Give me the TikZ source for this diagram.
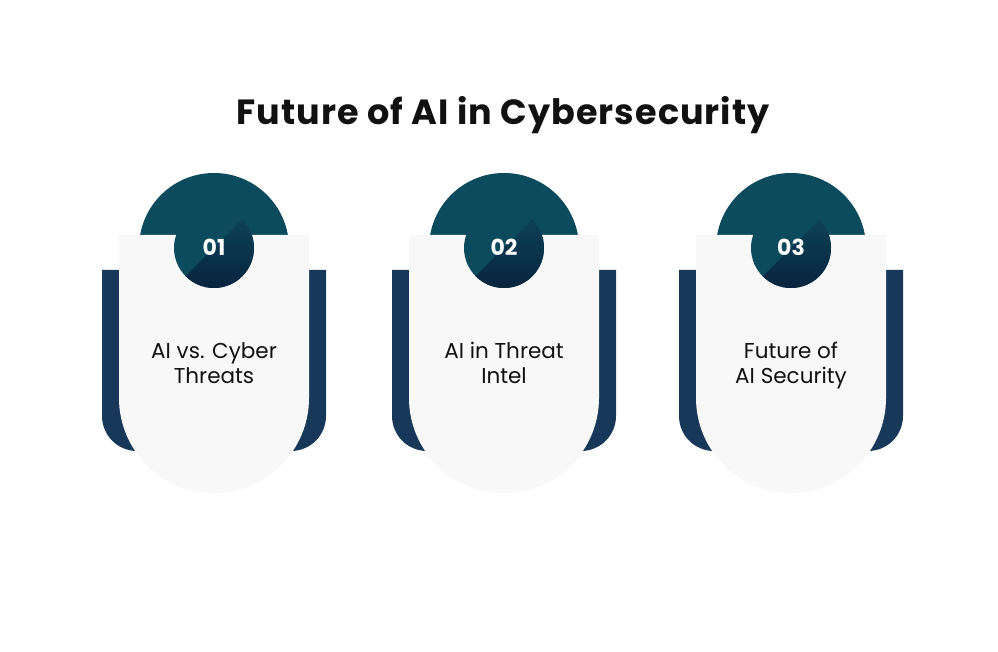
\documentclass[tikz,border=0pt]{standalone}
\usepackage{fontspec}
\setmainfont{Poppins}
\definecolor{teal1}{HTML}{0C4A5E}
\definecolor{navy1}{HTML}{18385A}
\definecolor{dark1}{HTML}{08203C}
\definecolor{card}{HTML}{F8F8F8}
\definecolor{ink}{HTML}{111111}
\tikzset{
  numtext/.style={text=white, font=\fontsize{22}{24}\selectfont\bfseries, inner sep=0pt},
  bodytext/.style={text=ink, font=\fontsize{21.5}{27}\selectfont, inner sep=0pt, anchor=base},
  titletext/.style={text=ink, font=\fontsize{35}{40}\selectfont\bfseries\addfontfeature{LetterSpace=3}, inner sep=0pt, anchor=base}
}
\begin{document}
\begin{tikzpicture}[x=1pt,y=1pt]
\useasboundingbox (0,0) rectangle (998,652);
\fill[white] (0,0) rectangle (998,652);
\node[titletext] (title) at (503,527) {Future of AI in Cybersecurity};
\foreach \cx/\num/\la/\lb in {214/01/{AI vs. Cyber}/{Threats}, 504/02/{AI in Threat}/{Intel}, 791/03/{Future of}/{AI Security}}{
  \fill[teal1] (\cx,404) circle (75);
  \fill[navy1] (\cx-112,382) -- (\cx-112,236) arc (180:270:35) -- (\cx+77,201) arc (270:360:35) -- (\cx+112,382) -- cycle;
  \fill[card] (\cx-95,417) -- (\cx-95,254) arc (180:360:95) -- (\cx+95,417) -- cycle;
  \fill[teal1] (\cx,404) circle (40);
  \begin{scope}
    \clip (\cx,404) circle (40);
    \shade[top color=teal1, bottom color=dark1] (\cx-50,354) -- (\cx+50,454) -- (\cx+50,354) -- cycle;
  \end{scope}
  \node[numtext] (n\num) at (\cx,405) {\num};
  \node[bodytext] (ta\num) at (\cx,293) {\la};
  \node[bodytext] (tb\num) at (\cx,268.5) {\lb};
}
\end{tikzpicture}
\end{document}
